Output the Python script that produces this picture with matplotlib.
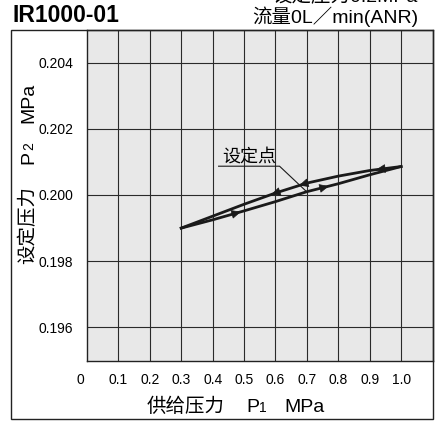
import matplotlib

matplotlib.use("Agg")
import matplotlib.pyplot as plt
import matplotlib.transforms as mtransforms
import numpy as np
from matplotlib.patches import Rectangle

plt.rcParams["font.family"] = ["Liberation Sans", "Noto Sans CJK SC", "DejaVu Sans"]

# supply pressure P1 (MPa) and set pressure P2 (MPa)
p1 = [0.3, 0.4, 0.5, 0.6, 0.7, 0.8, 0.9, 1.0]
p2_rising = [0.19900, 0.19925, 0.19952, 0.19980, 0.20010, 0.20034, 0.20061, 0.20086]
p2_falling = [0.19900, 0.19936, 0.19972, 0.20006, 0.20036, 0.20057, 0.20074, 0.20086]

# where the little direction arrows sit on each branch
arrows_rising = [0.49, 0.77]
arrows_falling = [0.586, 0.675, 0.92]

x_ticks = [0, 0.1, 0.2, 0.3, 0.4, 0.5, 0.6, 0.7, 0.8, 0.9, 1.0]
x_tick_labels = ["0", "0.1", "0.2", "0.3", "0.4", "0.5", "0.6", "0.7", "0.8", "0.9", "1.0"]
y_ticks = [0.196, 0.198, 0.200, 0.202, 0.204]
y_tick_labels = ["0.196", "0.198", "0.200", "0.202", "0.204"]

title = "IR1000-01"
cond_lines = ["设定压力0.2MPa", "流量0L／min(ANR)"]
x_label_parts = ["供给压力", "P", "1", "MPa"]
y_label_parts = ["设定压力", "P", "2", "MPa"]
set_point = "设定点"

W, H = 441, 424
fig = plt.figure(figsize=(W / 100, H / 100), dpi=100)
ax = fig.add_axes([87 / W, 1 - 360.5 / H, (432.5 - 87) / W, (360.5 - 29.5) / H])
ax.set_facecolor("#e8e8e8")

# outer frame around the whole chart
fig.patches.append(Rectangle((10.5 / W, 1 - 419 / H), (432.5 - 10.5) / W, (419 - 29.5) / H,
                             transform=fig.transFigure, fill=False, lw=1, ec="#222222"))

ax.set_xlim(0, 1.1)
ax.set_ylim(0.195, 0.205)
ax.set_xticks(x_ticks)
ax.set_xticklabels(x_tick_labels, fontsize=10)
ax.set_yticks(y_ticks)
ax.set_yticklabels(y_tick_labels, fontsize=10)
ax.tick_params(length=0)
ax.tick_params(axis="x", pad=9)
ax.tick_params(axis="y", pad=10)
# the "0" label sits a bit left of the axis edge
zero = ax.get_xticklabels()[0]
zero.set_transform(zero.get_transform() + mtransforms.ScaledTranslation(-7 / 100, 0, fig.dpi_scale_trans))

for x in x_ticks[1:]:
    ax.axvline(x, color="#2a2a2a", lw=0.8, zorder=1)
for y in y_ticks:
    ax.axhline(y, color="#2a2a2a", lw=0.8, zorder=1)
for s in ax.spines.values():
    s.set_color("#222222")
    s.set_linewidth(1)

ax.plot(p1, p2_rising, color="#1a1a1a", lw=2, zorder=3)
ax.plot(p1, p2_falling, color="#1a1a1a", lw=2, zorder=3)


def put_arrow(xs, ys, xpos, direction):
    d = 0.02 * direction
    x0, x1 = xpos - d, xpos
    ax.annotate("", xy=(x1, np.interp(x1, xs, ys)), xytext=(x0, np.interp(x0, xs, ys)),
                arrowprops=dict(arrowstyle="-|>,head_length=0.6,head_width=0.28",
                                color="#1a1a1a", lw=0.5, mutation_scale=10,
                                shrinkA=0, shrinkB=0), zorder=4)


for xa in arrows_rising:
    put_arrow(p1, p2_rising, xa, 1)
for xa in arrows_falling:
    put_arrow(p1, p2_falling, xa, -1)

# set point label with underline and leader line
ax.text(0.516, 0.20088, set_point, fontsize=13, ha="center", va="bottom", zorder=5)
ax.plot([0.419, 0.613, 0.697], [0.20087, 0.20087, 0.20012], color="#1a1a1a", lw=0.8, zorder=5)

# axis labels are built from pieces so the subscripts look right
renderer = fig.canvas.get_renderer()
sizes = [14, 14, 10, 14]
gaps = [0, 21, 0, 18]

x = 147
for part, size, gap in zip(x_label_parts, sizes, gaps):
    t = fig.text((x + gap) / W, 1 - 412 / H, part, fontsize=size, ha="left", va="baseline")
    x = t.get_window_extent(renderer).x1 + 0

y = 424 - 264
for part, size, gap in zip(y_label_parts, sizes, gaps):
    t = fig.text(33 / W, (y + gap) / H, part, fontsize=size, rotation=90,
                 rotation_mode="anchor", ha="left", va="baseline")
    y = t.get_window_extent(renderer).y1 + 1

fig.text(12 / W, 1 - 22 / H, title, fontsize=16.5, fontweight="bold", ha="left", va="baseline")
fig.text(418 / W, 1 - 2 / H, cond_lines[0], fontsize=14, ha="right", va="baseline")
fig.text(418 / W, 1 - 23 / H, cond_lines[1], fontsize=14, ha="right", va="baseline")

fig.savefig("out.png", dpi=100)
